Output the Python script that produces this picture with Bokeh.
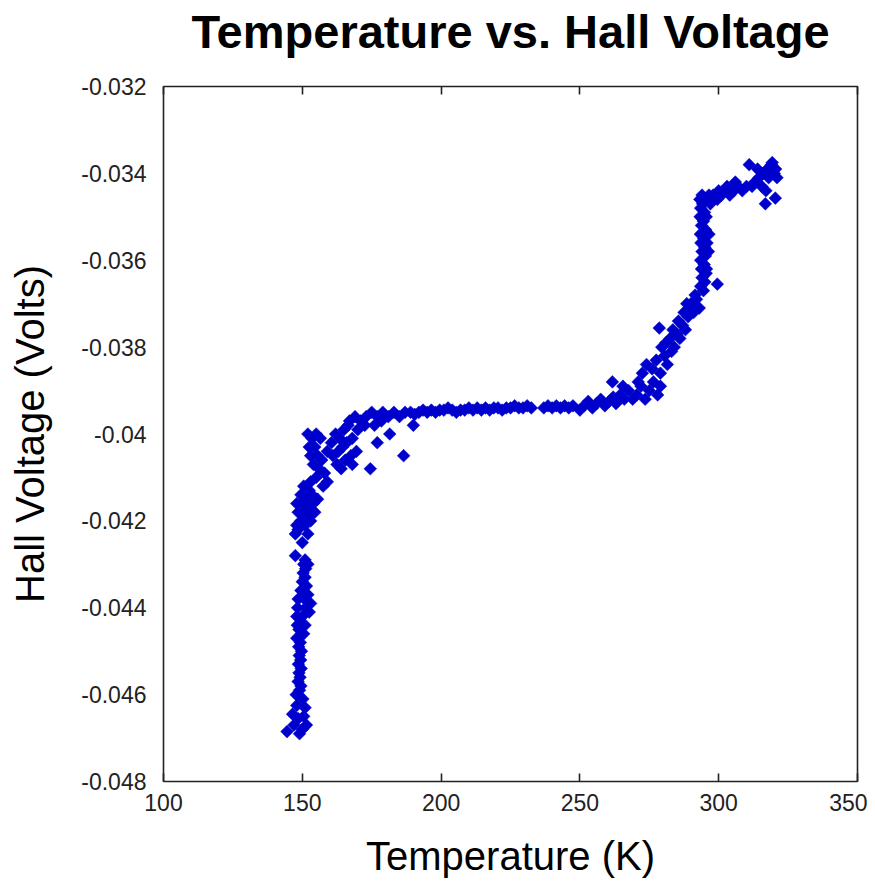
from bokeh.plotting import figure
from bokeh.models import Range1d, FixedTicker, CustomJSTickFormatter, LinearAxis, ColumnDataSource
from bokeh.embed import file_html
from bokeh.resources import INLINE
import numpy as np

title_text = "Temperature vs. Hall Voltage"
x_label = "Temperature (K)"
y_label = "Hall Voltage (Volts)"
x_ticks = [100, 150, 200, 250, 300, 350]
y_ticks = [-0.048, -0.046, -0.044, -0.042, -0.040, -0.038, -0.036, -0.034, -0.032]

# low-temperature column
t_low = [144.5, 147.0, 148.5, 150.0, 151.5, 149.0, 146.5, 150.5, 148.0, 151.0, 147.8, 150.2,
         149.0, 149.5, 148.5, 149.2, 148.8, 149.6, 148.6, 149.4, 148.9, 149.7, 148.7, 149.3, 148.5, 149.8, 148.8, 149.5,
         148.0, 150.5, 148.2, 151.0, 148.0, 150.0, 152.5, 148.3, 151.2, 153.0, 148.5, 150.8, 152.0, 149.5, 151.5,
         150.0, 151.0, 150.3, 151.2, 150.5, 152.0, 151.0, 147.5, 150.0, 147.5, 152.0, 148.5]
v_low = [-0.04685, -0.04670, -0.04655, -0.04680, -0.04670, -0.04690, -0.04645, -0.04650, -0.04625, -0.04630, -0.04600, -0.04610,
         -0.0459, -0.0458, -0.0457, -0.0456, -0.0455, -0.0454, -0.0453, -0.0452, -0.0451, -0.0450, -0.0449, -0.0448, -0.0447, -0.0446, -0.0445, -0.0444,
         -0.0447, -0.0446, -0.0444, -0.0444, -0.0442, -0.0442, -0.0441, -0.0440, -0.0440, -0.0439, -0.0438, -0.0438, -0.0437, -0.0436, -0.0435,
         -0.0434, -0.0433, -0.0432, -0.0431, -0.0430, -0.0430, -0.0429, -0.0428, -0.0425, -0.0423, -0.0423, -0.0422]

# knee region
t_knee = [148.0, 149.5, 151.0, 153.0, 148.5, 150.5, 152.5, 154.5, 148.0, 150.0, 152.0, 154.0, 149.5, 151.5, 153.5, 155.5, 150.5, 152.5,
          153.0, 155.0, 157.5, 159.0, 156.0, 158.0,
          152.0, 153.5, 155.0, 156.5, 152.5, 154.5, 153.0, 155.5, 157.0, 154.0,
          159.0, 160.5, 162.0, 163.5, 165.0, 166.5, 161.0, 163.0, 164.5, 166.0, 168.0, 162.5, 165.5, 167.5, 169.5, 164.0, 168.0,
          167.0, 169.0, 171.0, 173.0, 175.0, 177.0, 179.0, 181.0, 183.0, 185.0, 187.0, 189.0, 170.0, 172.5, 176.0, 178.5,
          174.5, 177.0, 181.5, 186.5]
v_knee = [-0.0421, -0.0420, -0.0421, -0.0420, -0.0418, -0.0418, -0.0419, -0.0418, -0.0416, -0.0416, -0.0417, -0.0416, -0.0414, -0.0415, -0.0414, -0.0415, -0.0412, -0.0413,
          -0.0411, -0.0410, -0.0412, -0.0411, -0.0408, -0.0409,
          -0.0400, -0.0401, -0.0400, -0.0401, -0.0403, -0.0403, -0.0405, -0.0405, -0.0406, -0.0407,
          -0.0404, -0.0402, -0.0400, -0.0401, -0.0399, -0.0398, -0.0405, -0.0404, -0.0403, -0.0402, -0.0401, -0.0407, -0.0406, -0.0405, -0.0404, -0.0408, -0.0407,
          -0.0397, -0.0396, -0.0397, -0.0396, -0.0395, -0.0396, -0.0395, -0.0396, -0.0395, -0.0396, -0.0395, -0.0395, -0.0399, -0.0398, -0.0398, -0.0397,
          -0.0408, -0.0402, -0.0400, -0.0405]

# plateau
t_flat = [190.0, 190.5, 192.0, 193.5, 195.0, 196.5, 198.0, 199.5, 201.0, 202.5, 204.0, 205.5, 207.0, 208.5, 210.0, 211.5, 213.0, 214.5,
          216.0, 217.5, 219.0, 220.5, 222.0, 223.5, 225.0, 226.5, 228.0, 229.5, 231.0, 232.5,
          237.0, 238.5, 240.0, 241.5, 243.0, 244.5, 246.0, 247.5,
          250.0, 251.5, 253.0, 254.5, 256.0, 257.5, 259.0, 260.5, 262.0]
v_flat = [-0.0398, -0.03955, -0.03950, -0.03945, -0.03950, -0.03945, -0.03950, -0.03945, -0.03945, -0.03940, -0.03945, -0.03950, -0.03945, -0.03945, -0.03940, -0.03945, -0.03940, -0.03945,
          -0.03940, -0.03945, -0.03940, -0.03940, -0.03945, -0.03940, -0.03940, -0.03935, -0.03940, -0.03940, -0.03935, -0.03940,
          -0.03940, -0.03935, -0.03940, -0.03935, -0.03940, -0.03935, -0.03940, -0.03935,
          -0.03945, -0.03935, -0.03925, -0.03940, -0.03930, -0.03920, -0.03935, -0.03925, -0.03915]

# rise
t_rise = [263.0, 264.5, 266.0, 267.5, 269.0, 270.5, 272.0, 273.5, 275.0, 276.5, 278.0, 279.0, 265.5, 271.0, 261.7,
          272.5, 274.0, 276.0, 277.5, 279.0, 280.5, 281.5, 283.0, 279.5, 281.0, 282.5, 284.0, 285.0, 283.5, 286.0, 287.0, 285.5, 288.0, 289.0,
          287.5, 289.5, 291.0, 290.0, 292.0, 288.5, 293.0, 291.5,
          278.6, 299.5]
v_rise = [-0.0393, -0.0391, -0.0392, -0.0390, -0.0392, -0.0391, -0.0389, -0.0392, -0.0390, -0.0388, -0.0391, -0.0389, -0.0389, -0.0388, -0.0388,
          -0.0386, -0.0384, -0.0385, -0.0383, -0.0386, -0.0382, -0.0384, -0.0381, -0.0380, -0.0379, -0.0378, -0.0380, -0.0377, -0.0376, -0.0378, -0.0375, -0.0374, -0.0376, -0.0373,
          -0.0372, -0.0371, -0.0372, -0.0370, -0.0369, -0.0370, -0.0371, -0.0368,
          -0.03756, -0.03655]

# vertical step
t_step = [294.5, 293.5, 295.0, 294.0, 295.5, 293.8, 294.8, 293.5, 295.2, 294.0, 295.0, 293.6, 294.6, 293.4, 295.3, 293.8, 294.5, 293.3,
          294.9, 293.5, 294.2, 293.2, 294.0, 295.5, 295.8, 295.6, 296.5, 296.3]
v_step = [-0.0367, -0.0366, -0.0365, -0.0364, -0.0363, -0.0362, -0.0361, -0.0360, -0.0359, -0.0358, -0.0357, -0.0356, -0.0355, -0.0354, -0.0353, -0.0352, -0.0351, -0.0350,
          -0.0349, -0.0348, -0.0347, -0.0346, -0.0345, -0.0350, -0.0356, -0.0362, -0.0354, -0.0358]

# high-temperature top
t_top = [295.0, 296.5, 298.0, 299.5, 301.0, 302.5, 304.0, 305.5, 307.0, 308.5, 310.0, 297.0, 300.0, 303.0, 306.0,
         311.0, 313.0, 314.5, 316.0, 317.5, 319.0, 320.5, 318.0, 320.0, 321.0, 315.5, 317.0, 312.0, 319.3, 316.8, 320.4, 314.0]
v_top = [-0.0346, -0.0345, -0.0345, -0.0346, -0.0345, -0.0344, -0.0345, -0.0344, -0.0343, -0.0344, -0.0343, -0.0347, -0.0344, -0.0343, -0.0342,
         -0.0338, -0.0342, -0.0341, -0.0340, -0.0339, -0.0338, -0.0339, -0.0341, -0.0340, -0.0341, -0.0343, -0.0344, -0.0343, -0.03375, -0.0347, -0.03457, -0.0339]

temps = t_low + t_knee + t_flat + t_rise + t_step + t_top
volts = v_low + v_knee + v_flat + v_rise + v_step + v_top
src = ColumnDataSource(dict(t=temps, v=volts))

p = figure(width=867, height=883, output_backend="svg", toolbar_location=None,
           x_range=Range1d(100, 350), y_range=Range1d(-0.048, -0.032),
           min_border_left=163, min_border_right=10, min_border_top=86, min_border_bottom=102,
           x_axis_label=x_label, y_axis_label=y_label)
p.background_fill_color = "white"
p.border_fill_color = "white"
p.grid.visible = False
p.outline_line_color = "#222222"
p.outline_line_width = 1.6

p.title.text = title_text
p.title.align = "center"
p.title.text_font = "Liberation Sans"
p.title.text_font_size = "47px"
p.title.text_font_style = "bold"
p.title.text_color = "black"
p.title.standoff = 4

p.scatter("t", "v", source=src, marker="square", angle=np.pi / 4, size=9,
          fill_color="#0000CC", line_color="#0000CC", line_width=0.5)

xa = p.xaxis[0]
xa.ticker = FixedTicker(ticks=x_ticks)
xa.major_tick_in = 8
xa.major_tick_out = 0
xa.minor_tick_line_color = None
xa.axis_line_color = None
xa.major_tick_line_color = "#222222"
xa.major_tick_line_width = 1.6
xa.major_label_text_font = "Liberation Sans"
xa.major_label_text_font_size = "23px"
xa.major_label_text_color = "#222222"
xa.major_label_standoff = 12
xa.axis_label_text_font = "Liberation Sans"
xa.axis_label_text_font_size = "40px"
xa.axis_label_text_font_style = "normal"
xa.axis_label_text_color = "black"
xa.axis_label_standoff = 20

ya = p.yaxis[0]
ya.ticker = FixedTicker(ticks=y_ticks)
ya.formatter = CustomJSTickFormatter(code="return String(parseFloat(tick.toFixed(4)));")
ya.major_tick_line_color = None
ya.minor_tick_line_color = None
ya.axis_line_color = None
ya.major_label_text_font = "Liberation Sans"
ya.major_label_text_font_size = "23px"
ya.major_label_text_color = "#222222"
ya.major_label_standoff = 11
ya.axis_label_text_font = "Liberation Sans"
ya.axis_label_text_font_size = "40px"
ya.axis_label_text_font_style = "normal"
ya.axis_label_text_color = "black"
ya.axis_label_standoff = 26

# top axis carrying the inward tick marks (closest to the frame)
top = LinearAxis(ticker=FixedTicker(ticks=x_ticks))
top.formatter = CustomJSTickFormatter(code="return '';")
top.major_tick_in = 8
top.major_tick_out = 0
top.minor_tick_line_color = None
top.axis_line_color = None
top.major_tick_line_color = "#222222"
top.major_tick_line_width = 1.6
top.major_label_standoff = 0
p.add_layout(top, "above")

# invisible spacer axis that separates the title from the frame
spacer = LinearAxis(ticker=FixedTicker(ticks=x_ticks))
spacer.formatter = CustomJSTickFormatter(code="return '';")
spacer.major_tick_in = 0
spacer.major_tick_out = 27
spacer.major_tick_line_color = None
spacer.minor_tick_line_color = None
spacer.axis_line_color = None
spacer.major_label_standoff = 0
p.add_layout(spacer, "above")

open("out.html", "w").write(file_html(p, INLINE))
